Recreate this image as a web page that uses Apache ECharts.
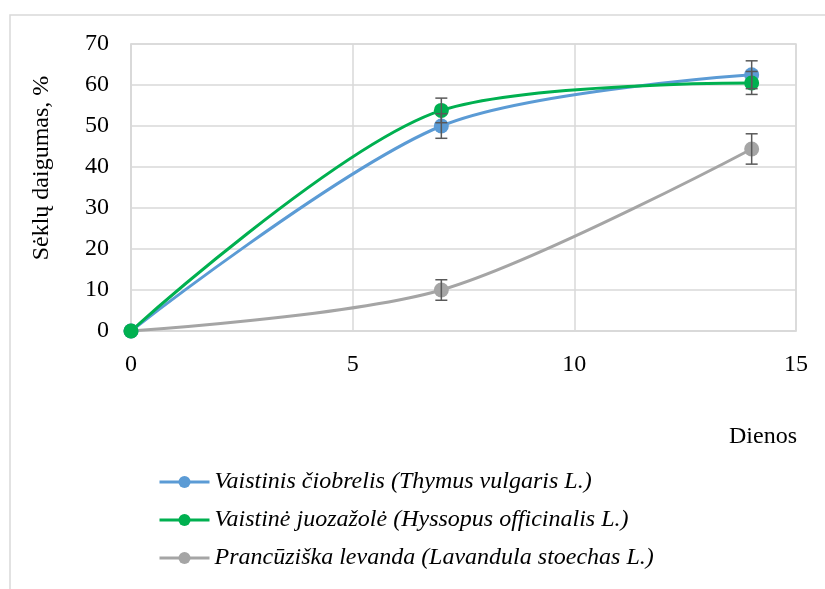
<!DOCTYPE html>
<html>
<head>
<meta charset="utf-8">
<script src="https://cdn.jsdelivr.net/npm/echarts@6/dist/echarts.min.js"></script>
<style>
  html, body { margin: 0; padding: 0; background: #fff; }
  #chart { width: 825px; height: 589px; }
</style>
</head>
<body>
<div id="chart"></div>
<script>
// Germination over time (days) for three herb species
const days = [0, 7, 14];
const seriesNames = [
  'Vaistinis čiobrelis (Thymus vulgaris L.)',
  'Vaistinė juozažolė (Hyssopus officinalis L.)',
  'Prancūziška levanda (Lavandula stoechas L.)'
];
const thymus = [0, 50, 62.5];
const hyssopus = [0, 53.8, 60.5];
const lavandula = [0, 10, 44.4];
// standard error per point
const thymusErr = [0, 3, 3.4];
const hyssopusErr = [0, 3, 2.8];
const lavandulaErr = [0, 2.5, 3.7];
const colors = ['#5B9BD5', '#00B050', '#A5A5A5'];

const values = [thymus, hyssopus, lavandula];
const errors = [thymusErr, hyssopusErr, lavandulaErr];

const serif = '"Liberation Serif", "Times New Roman", serif';

const lineSeries = values.map((vals, i) => ({
  name: seriesNames[i],
  type: 'line',
  smooth: 0.3,
  data: days.map((d, j) => [d, vals[j]]),
  symbol: 'circle',
  symbolSize: 15,
  lineStyle: { width: 3, color: colors[i] },
  itemStyle: { color: colors[i] },
  z: i === 2 ? 3 : 4
}));

const errorSeries = values.map((vals, i) => ({
  type: 'custom',
  name: seriesNames[i] + ' err',
  silent: true,
  z: 10,
  data: days.map((d, j) => [d, vals[j] - errors[i][j], vals[j] + errors[i][j]])
    .filter((r, j) => errors[i][j] > 0),
  renderItem: function (params, api) {
    const x = api.value(0);
    const lo = api.coord([x, api.value(1)]);
    const hi = api.coord([x, api.value(2)]);
    const half = 6;
    const style = { stroke: '#595959', lineWidth: 1.5, fill: null };
    return {
      type: 'group',
      children: [
        { type: 'line', shape: { x1: hi[0], y1: hi[1], x2: lo[0], y2: lo[1] }, style: style },
        { type: 'line', shape: { x1: hi[0] - half, y1: hi[1], x2: hi[0] + half, y2: hi[1] }, style: style },
        { type: 'line', shape: { x1: lo[0] - half, y1: lo[1], x2: lo[0] + half, y2: lo[1] }, style: style }
      ]
    };
  }
}));

const chart = echarts.init(document.getElementById('chart'), null, { renderer: 'canvas' });
chart.setOption({
  animation: false,
  backgroundColor: '#ffffff',
  textStyle: { fontFamily: serif },
  grid: { left: 131, top: 44, right: 29, bottom: 258, show: true, borderColor: '#d9d9d9', borderWidth: 1.5 },
  xAxis: {
    type: 'value',
    min: 0, max: 15, interval: 5,
    axisLine: { show: true, lineStyle: { color: '#d9d9d9', width: 1.5 } },
    axisTick: { show: false },
    splitLine: { show: true, lineStyle: { color: '#d9d9d9', width: 1.5 } },
    axisLabel: { color: '#000', fontSize: 24, fontFamily: serif, margin: 22 }
  },
  yAxis: {
    type: 'value',
    min: 0, max: 70, interval: 10,
    axisLine: { show: true, lineStyle: { color: '#d9d9d9', width: 1.5 } },
    axisTick: { show: false },
    splitLine: { show: true, lineStyle: { color: '#d9d9d9', width: 1.5 } },
    axisLabel: { color: '#000', fontSize: 24, fontFamily: serif, margin: 22 }
  },
  legend: {
    data: seriesNames,
    orient: 'vertical',
    left: 153,
    top: 463,
    itemWidth: 50,
    itemHeight: 15,
    itemGap: 10,
    lineStyle: { width: 3 },
    textStyle: { color: '#000', fontSize: 24, fontStyle: 'italic', fontFamily: serif, lineHeight: 28 }
  },
  graphic: [
    {
      type: 'polyline',
      silent: true,
      shape: { points: [[10, 589], [10, 15], [825, 15]] },
      style: { stroke: '#d9d9d9', lineWidth: 1.5, fill: null }
    },
    {
      // y-axis title, placed slightly above the plot's vertical centre
      type: 'text',
      x: 42,
      y: 168,
      rotation: Math.PI / 2,
      style: {
        text: 'Sėklų daigumas, %',
        font: '24px ' + serif,
        fill: '#000',
        align: 'center',
        verticalAlign: 'middle'
      }
    },
    {
      type: 'text',
      right: 28,
      top: 425,
      style: { text: 'Dienos', font: '24px ' + serif, fill: '#000' }
    }
  ],
  series: lineSeries.concat(errorSeries)
});
</script>
</body>
</html>
